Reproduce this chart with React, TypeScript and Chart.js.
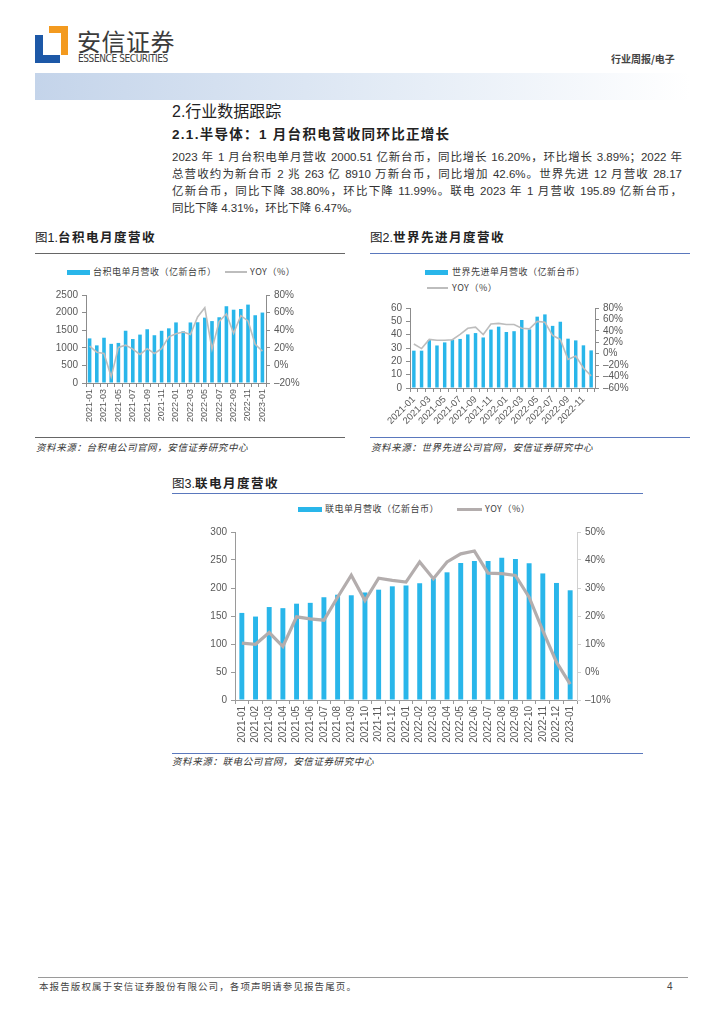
import React, { useEffect, useRef } from "react";
import { Chart, registerables } from "chart.js";

Chart.register(...registerables);

// ---------- data ----------
const months2021to2023 = [
  "2021-01", "2021-02", "2021-03", "2021-04", "2021-05", "2021-06", "2021-07", "2021-08", "2021-09",
  "2021-10", "2021-11", "2021-12", "2022-01", "2022-02", "2022-03", "2022-04", "2022-05", "2022-06",
  "2022-07", "2022-08", "2022-09", "2022-10", "2022-11", "2022-12", "2023-01",
];
const months2021to2022 = months2021to2023.slice(0, 24);

const tsmcRevenue = [1267, 1069, 1286, 1112, 1139, 1485, 1249, 1375, 1527, 1357, 1483, 1553, 1721, 1468, 1720, 1726, 1857, 1759, 1868, 2181, 2082, 2103, 2227, 1925, 2001];
const tsmcYoY = [22, 15, 13.5, -13, 20.5, 23, 18.5, 12.5, 19, 13.5, 19, 32.5, 36, 38, 35, 55, 65.5, 18.5, 50, 58.5, 36.5, 56.5, 50.5, 24, 16.2];

const visRevenue = [28, 28, 36, 31.9, 34.2, 36.3, 36.8, 40.2, 41.2, 37.9, 43.8, 46, 42, 42.6, 51, 44, 53.5, 55.2, 46.6, 49.7, 37, 35.7, 32, 28.2];
const visYoY = [17, 9, 25, 23.5, 23.5, 24.5, 34, 44.5, 46.5, 33.5, 52, 53, 51, 51, 44.5, 43.5, 56.5, 55, 32, 25, -10, -4, -25, -38.8];

const umcRevenue = [155.5, 149, 166, 164, 172, 173.5, 183.5, 188, 187, 192, 197, 203, 204.5, 208.5, 217, 228, 244.5, 248, 248, 254, 252, 244, 226, 209, 195.9];
const umcYoY = [10.3, 9.9, 14.1, 9.1, 19.7, 19, 18.5, 26.7, 34.6, 25.5, 33.5, 32.7, 32.1, 39.3, 33.3, 39.3, 42.2, 43.2, 35.3, 35.1, 34.5, 26.7, 14.8, 3.5, -4.31];

const leftTicks1 = { min: 0, max: 2500, step: 500 };
const rightTicks1 = { min: -20, max: 80, step: 20 };
const leftTicks2 = { min: 0, max: 60, step: 10 };
const rightTicks2 = { min: -60, max: 80, step: 20 };
const leftTicks3 = { min: 0, max: 300, step: 50 };
const rightTicks3 = { min: -10, max: 50, step: 10 };

// ---------- styles ----------
const CJK = '"Noto Sans CJK SC", "Noto Sans", sans-serif';
const MIX = '"Liberation Sans", "Noto Sans CJK SC", sans-serif';
const NUM = '"Liberation Sans", Arial, sans-serif';
const BAR = "#29b6ea";
const TICK = "#595959";

type ComboProps = {
  left: number; top: number; width: number; height: number;
  labels: string[]; bars: number[]; line: number[];
  l: { min: number; max: number; step: number };
  r: { min: number; max: number; step: number };
  leftW: number; rightW: number; bottomH: number; padTop: number;
  barPct: number; lineColor: string; lineWidth: number;
  rotation: number; labelEvery: number; xFont: number; yFont: number;
  axisColor: string; rightAxisColor: string;
};

function ComboChart(p: ComboProps) {
  const ref = useRef<HTMLCanvasElement | null>(null);
  useEffect(() => {
    if (!ref.current) return;
    const pct = (v: number) => (v < 0 ? "–" + Math.abs(v) : String(v)) + "%";
    const chart = new Chart(ref.current, {
      type: "bar",
      data: {
        labels: p.labels,
        datasets: [
          {
            type: "line",
            label: "YOY（%）",
            data: p.line,
            yAxisID: "y1",
            borderColor: p.lineColor,
            backgroundColor: p.lineColor,
            borderWidth: p.lineWidth,
            pointRadius: 0,
            tension: 0,
            fill: false,
            order: 0,
          } as any,
          {
            type: "bar",
            label: "rev",
            data: p.bars,
            yAxisID: "y",
            backgroundColor: BAR,
            barPercentage: p.barPct,
            categoryPercentage: 1,
            order: 1,
          } as any,
        ],
      },
      options: {
        responsive: false,
        animation: false,
        devicePixelRatio: 1,
        layout: { padding: { top: p.padTop, left: 0, right: 0, bottom: 0 } },
        plugins: { legend: { display: false }, tooltip: { enabled: false } },
        scales: {
          x: {
            offset: true,
            grid: { display: true, offset: true, drawOnChartArea: false, tickLength: 4, color: p.axisColor },
            border: { color: p.axisColor },
            ticks: {
              autoSkip: false,
              maxRotation: p.rotation,
              minRotation: p.rotation,
              padding: 2,
              color: TICK,
              font: { family: NUM, size: p.xFont },
              callback: (_v: any, i: number) => (i % p.labelEvery === 0 ? p.labels[i] : ""),
            },
            afterFit: (s: any) => { s.height = p.bottomH; },
          },
          y: {
            position: "left",
            min: p.l.min,
            max: p.l.max,
            grid: { drawOnChartArea: false, tickLength: 4, color: p.axisColor },
            border: { color: p.axisColor },
            ticks: {
              stepSize: p.l.step, autoSkip: false, padding: 4, color: TICK,
              font: { family: NUM, size: p.yFont },
              callback: (v: any) => String(v),
            },
            afterFit: (s: any) => { s.width = p.leftW; },
          },
          y1: {
            position: "right",
            min: p.r.min,
            max: p.r.max,
            grid: { drawOnChartArea: false, tickLength: 4, color: p.rightAxisColor },
            border: { color: p.rightAxisColor },
            ticks: {
              stepSize: p.r.step, autoSkip: false, padding: 4, color: TICK,
              font: { family: NUM, size: p.yFont },
              callback: (v: any) => pct(Number(v)),
            },
            afterFit: (s: any) => { s.width = p.rightW; },
          },
        } as any,
      },
    });
    return () => chart.destroy();
  }, []);
  return (
    <canvas
      ref={ref}
      width={p.width}
      height={p.height}
      style={{ position: "absolute", left: p.left, top: p.top, width: p.width, height: p.height }}
    />
  );
}

function T(props: { x: number; cy: number; size: number; children: any; style?: any; lh?: number }) {
  const lh = props.lh ?? Math.round(props.size * 1.3);
  return (
    <div
      style={{
        position: "absolute",
        left: props.x,
        top: props.cy - lh / 2,
        fontSize: props.size,
        lineHeight: lh + "px",
        whiteSpace: "nowrap",
        fontFamily: MIX,
        color: "#333",
        ...props.style,
      }}
    >
      {props.children}
    </div>
  );
}

function HLine(props: { x: number; y: number; w: number; color: string; h?: number }) {
  return <div style={{ position: "absolute", left: props.x, top: props.y, width: props.w, height: props.h ?? 1, background: props.color }} />;
}

function BarKey(props: { x: number; cy: number; w: number; h: number }) {
  return <div style={{ position: "absolute", left: props.x, top: props.cy - props.h / 2, width: props.w, height: props.h, background: BAR }} />;
}

const paraLines = [
  "2023 年 1 月台积电单月营收 2000.51 亿新台币，同比增长 16.20%，环比增长 3.89%；2022 年",
  "总营收约为新台币 2 兆 263 亿 8910 万新台币，同比增加 42.6%。世界先进 12 月营收 28.17",
  "亿新台币，同比下降 38.80%，环比下降 11.99%。联电 2023 年 1 月营收 195.89 亿新台币，",
  "同比下降 4.31%，环比下降 6.47%。",
];

export default function App() {
  const legendStyle = { fontFamily: CJK, fontSize: 9, color: "#404040", letterSpacing: 0.5 };
  const srcStyle = { fontFamily: CJK, fontSize: 9.5, color: "#333", fontStyle: "italic", letterSpacing: 0.6 };
  const figTitle = (num: string, name: string) => (
    <span>
      <span style={{ fontWeight: 400 }}>{num}</span>
      <span style={{ fontWeight: 700, letterSpacing: 1.5 }}>{name}</span>
    </span>
  );
  const BLUE_RULE = "#5a78bd";
  return (
    <div style={{ position: "absolute", left: 0, top: 0, width: 724, height: 1024, background: "#fff", overflow: "hidden" }}>
      {/* logo */}
      <svg style={{ position: "absolute", left: 0, top: 0 }} width={120} height={80}>
        <path d="M35,35 L43,35 L43,55 L60,55 L60,63 L35,63 Z" fill="#1d58a7" />
        <path d="M49,26 L68,26 L68,55 L61,55 L61,33 L49,33 Z" fill="#f39a1f" />
      </svg>
      <T x={77} cy={40} size={24} style={{ fontFamily: CJK, color: "#3c3c3c", letterSpacing: 0.5 }}>安信证券</T>
      <T x={78} cy={58} size={10} style={{ fontFamily: '"Liberation Sans Narrow", "DejaVu Sans Condensed", sans-serif', color: "#3c3c3c", letterSpacing: -0.4 }}>ESSENCE SECURITIES</T>
      <T x={611} cy={58} size={10} style={{ fontFamily: CJK, fontWeight: 700, color: "#444" }}>行业周报/电子</T>
      <div style={{ position: "absolute", left: 35, top: 73, width: 655, height: 27, background: "linear-gradient(to right, #c4d4ea, #e4ecf6 55%, #ffffff)" }} />

      {/* headings & paragraph */}
      <T x={172} cy={111} size={16} style={{ fontFamily: MIX, color: "#222" }}>2.行业数据跟踪</T>
      <T x={172} cy={135} size={13.5} style={{ fontFamily: MIX, fontWeight: 700, color: "#222", letterSpacing: 1.3 }}>2.1.半导体：1 月台积电营收同环比正增长</T>
      {paraLines.map((s, i) => (
        <div
          key={i}
          style={{
            position: "absolute",
            left: 172,
            top: 157 + i * 17 - 8,
            width: 510,
            fontSize: 11.5,
            lineHeight: "16px",
            fontFamily: MIX,
            color: "#333",
            textAlign: "justify",
            textAlignLast: i < 3 ? "justify" : "left",
            whiteSpace: "nowrap",
          } as any}
        >
          {s}
        </div>
      ))}

      {/* figure 1 */}
      <T x={35} cy={238} size={12.5} style={{ fontFamily: MIX, color: "#222" }}>{figTitle("图1.", "台积电月度营收")}</T>
      <HLine x={35} y={253} w={310} color="#666" />
      <BarKey x={67} cy={272} w={23} h={5} />
      <T x={93} cy={272} size={9} style={legendStyle}>台积电单月营收（亿新台币）</T>
      <HLine x={225} y={271} w={22} h={2} color="#bdbdbd" />
      <T x={250} cy={272} size={9} style={legendStyle}>YOY（%）</T>
      <ComboChart
        left={40} top={285} width={260} height={150}
        labels={months2021to2023} bars={tsmcRevenue} line={tsmcYoY}
        l={leftTicks1} r={rightTicks1}
        leftW={46} rightW={34} bottomH={52} padTop={6}
        barPct={0.5} lineColor="#bdbdbd" lineWidth={1.6}
        rotation={90} labelEvery={2} xFont={9} yFont={10}
        axisColor="#8c8c8c" rightAxisColor="#8c8c8c"
      />
      <HLine x={35} y={437} w={310} color="#666" />
      <T x={36} cy={447} size={9.5} style={srcStyle}>资料来源：台积电公司官网，安信证券研究中心</T>

      {/* figure 2 */}
      <T x={370} cy={238} size={12.5} style={{ fontFamily: MIX, color: "#222" }}>{figTitle("图2.", "世界先进月度营收")}</T>
      <HLine x={370} y={253} w={320} color={BLUE_RULE} />
      <BarKey x={425} cy={272} w={23} h={5} />
      <T x={452} cy={272} size={9} style={legendStyle}>世界先进单月营收（亿新台币）</T>
      <HLine x={427} y={287} w={21} h={2} color="#bdbdbd" />
      <T x={452} cy={288} size={9} style={legendStyle}>YOY（%）</T>
      <ComboChart
        left={370} top={298} width={259} height={133}
        labels={months2021to2022} bars={visRevenue} line={visYoY}
        l={leftTicks2} r={rightTicks2}
        leftW={40} rightW={34} bottomH={43} padTop={6}
        barPct={0.45} lineColor="#bdbdbd" lineWidth={1.6}
        rotation={45} labelEvery={2} xFont={9.5} yFont={10}
        axisColor="#8c8c8c" rightAxisColor="#8c8c8c"
      />
      <HLine x={370} y={437} w={320} color={BLUE_RULE} />
      <T x={371} cy={447} size={9.5} style={srcStyle}>资料来源：世界先进公司官网，安信证券研究中心</T>

      {/* figure 3 */}
      <T x={172} cy={484} size={12.5} style={{ fontFamily: MIX, color: "#222" }}>{figTitle("图3.", "联电月度营收")}</T>
      <HLine x={172} y={493} w={471} color={BLUE_RULE} />
      <BarKey x={298} cy={509} w={24} h={5} />
      <T x={325} cy={509} size={9} style={legendStyle}>联电单月营收（亿新台币）</T>
      <HLine x={457} y={508} w={25} h={3} color="#b3adad" />
      <T x={485} cy={509} size={9} style={legendStyle}>YOY（%）</T>
      <ComboChart
        left={180} top={522} width={440} height={227}
        labels={months2021to2023} bars={umcRevenue} line={umcYoY}
        l={leftTicks3} r={rightTicks3}
        leftW={55} rightW={43} bottomH={49} padTop={7}
        barPct={0.36} lineColor="#b3adad" lineWidth={3.2}
        rotation={90} labelEvery={1} xFont={10} yFont={10}
        axisColor="#9a9a9a" rightAxisColor="#d0d0d0"
      />
      <HLine x={172} y={753} w={471} color={BLUE_RULE} />
      <T x={172} cy={761} size={9.5} style={srcStyle}>资料来源：联电公司官网，安信证券研究中心</T>

      {/* footer */}
      <HLine x={38} y={977} w={650} color="#9a9a9a" />
      <T x={39} cy={986} size={9.5} style={{ fontFamily: CJK, color: "#444", letterSpacing: 1.1 }}>本报告版权属于安信证券股份有限公司，各项声明请参见报告尾页。</T>
      <T x={667} cy={986} size={10} style={{ fontFamily: NUM, color: "#444" }}>4</T>
    </div>
  );
}
